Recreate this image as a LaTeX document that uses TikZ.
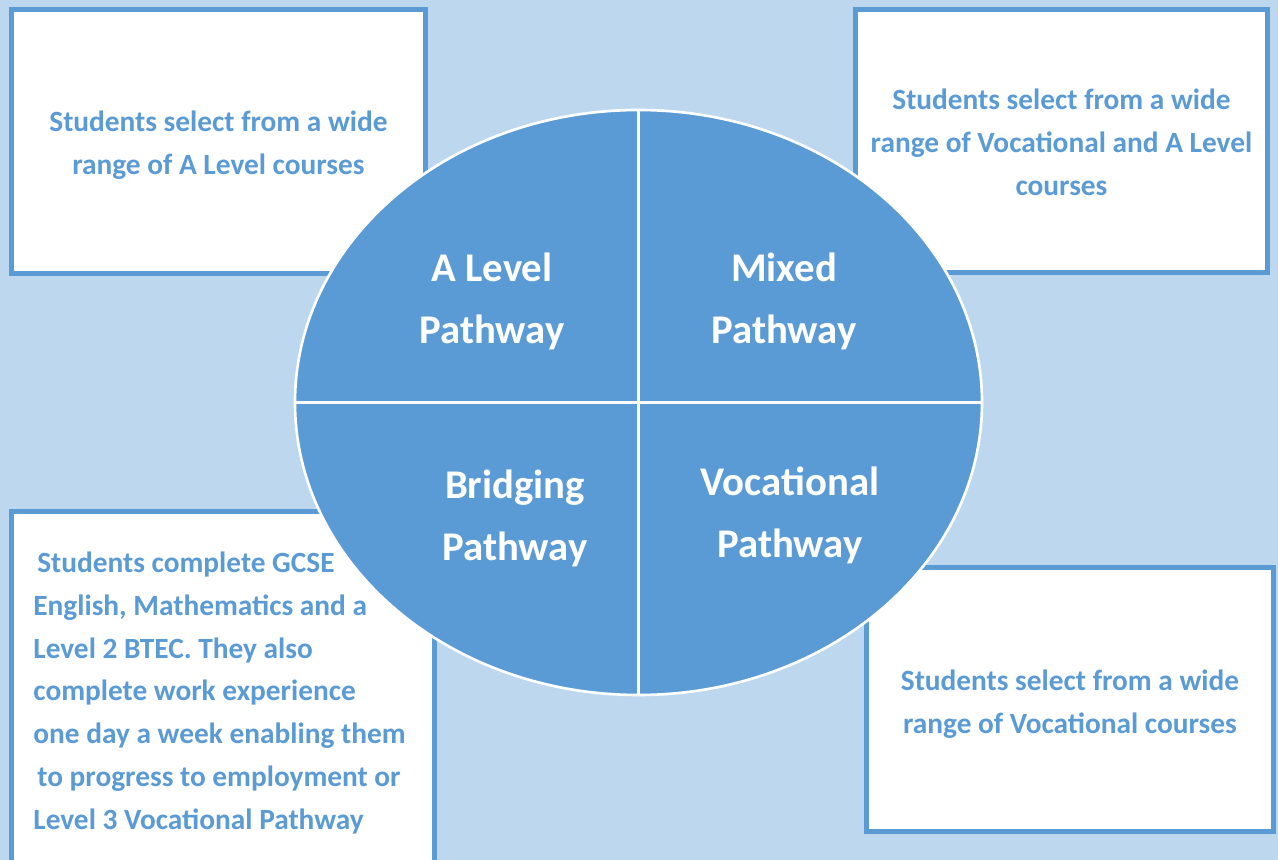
\documentclass[tikz,border=0pt]{standalone}
\usepackage{fontspec}
\setmainfont{Carlito}
\usepackage{tikz}
\usepackage{color}
\usetikzlibrary{shapes.geometric}
\definecolor{pathblue}{RGB}{91,155,213}
\definecolor{paleblue}{RGB}{189,215,238}
\tikzset{
  infobox/.style={draw=pathblue, fill=white, line width=0.1cm, inner sep=0pt},
  boxtext/.style={text=pathblue, font=\bfseries\fontsize{16.7}{24.4}\selectfont, align=center, inner sep=0pt},
  pathlabel/.style={text=white, font=\bfseries\fontsize{23.2}{35.2}\selectfont, align=center}
}

\begin{document}
\begin{tikzpicture}[scale=1]
\useasboundingbox (0,0) rectangle (25.56,17.2);
\clip (0,0) rectangle (25.56,17.2);
\fill [paleblue] (0,0) rectangle (25.56,17.2);
%% boxes
\node [infobox, minimum width=8.28cm, minimum height=5.28cm] (alevelbox) at (4.37,14.37) {};
\node [infobox, minimum width=8.24cm, minimum height=5.26cm] (mixedbox) at (21.23,14.38) {};
\node [infobox, minimum width=8.14cm, minimum height=5.28cm] (vocbox) at (21.4,3.21) {};
\node [infobox, minimum width=8.46cm, minimum height=7.32cm] (bridgebox) at (4.46,3.31) {};
%% box texts
\node [boxtext] (aleveltext) at (4.37,14.29) {Students select from a wide\\range of A Level courses};
\node [boxtext] (mixedtext) at (21.23,14.36) {Students select from a wide\\range of Vocational and A Level\\courses};
\node [boxtext] (voctext) at (21.4,3.11) {Students select from a wide\\range of Vocational courses};
\node [boxtext, text width=7.66cm, align=flush left, anchor=west] (bridgetext) at (0.66,3.34)
  {\hspace*{0.08cm}Students complete GCSE\\English, Mathematics and a\\Level 2 BTEC. They also\\complete work experience\\one day a week enabling them\\\hspace*{0.08cm}to progress to employment or\\Level 3 Vocational Pathway};
%% ellipse
\node [ellipse, fill=pathblue, draw=white, line width=1.5pt, minimum width=13.74cm, minimum height=11.7cm, inner sep=0pt] (oval) at (12.77,9.15) {};
\draw [white, line width=2pt] (oval.north) -- (oval.south);
\draw [white, line width=2pt] (oval.west) -- (oval.east);
%% labels
\node [pathlabel] (alevel) at (9.84,11.17) {A Level\\Pathway};
\node [pathlabel] (mixed) at (15.68,11.17) {Mixed\\Pathway};
\node [pathlabel] (bridging) at (10.30,6.84) {Bridging\\Pathway};
\node [pathlabel] (vocational) at (15.80,6.90) {Vocational\\Pathway};

\end{tikzpicture}
\end{document}
